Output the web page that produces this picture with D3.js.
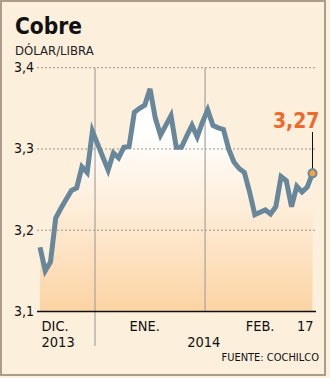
<!DOCTYPE html>
<html>
<head>
<meta charset="utf-8">
<script src="https://cdn.jsdelivr.net/npm/d3@7"></script>
<style>
  html, body { margin: 0; padding: 0; background: #fcf0de; }
  svg { display: block; }
</style>
</head>
<body>
<svg id="chart" width="330" height="378"></svg>
<script>
// Copper price, US dollars per pound, daily closes (Dec 2013 – Feb 17, 2014)
const dates = [
  "2013-12-02","2013-12-03","2013-12-04","2013-12-05","2013-12-06",
  "2013-12-09","2013-12-10","2013-12-11","2013-12-12","2013-12-13",
  "2013-12-16","2013-12-17","2013-12-18","2013-12-19","2013-12-20",
  "2013-12-23","2013-12-24","2013-12-27","2013-12-30","2013-12-31",
  "2014-01-02","2014-01-03","2014-01-06","2014-01-07","2014-01-08",
  "2014-01-09","2014-01-10","2014-01-13","2014-01-14","2014-01-15",
  "2014-01-16","2014-01-17","2014-01-20","2014-01-21","2014-01-22",
  "2014-01-23","2014-01-24","2014-01-27","2014-01-28","2014-01-29",
  "2014-01-30","2014-01-31","2014-02-03","2014-02-04","2014-02-05",
  "2014-02-06","2014-02-07","2014-02-10","2014-02-11","2014-02-12",
  "2014-02-13","2014-02-14","2014-02-17"
];
const prices = [
  3.179, 3.150, 3.161, 3.215, 3.227, 3.238, 3.249, 3.252, 3.278, 3.271,
  3.322, 3.306, 3.290, 3.274, 3.295, 3.289, 3.302, 3.303, 3.345, 3.350,
  3.354, 3.374, 3.338, 3.317, 3.329, 3.341, 3.302, 3.302, 3.316, 3.329,
  3.315, 3.333, 3.348, 3.329, 3.326, 3.324, 3.300, 3.284, 3.276, 3.271,
  3.247, 3.219, 3.222, 3.225, 3.220, 3.229, 3.266, 3.261, 3.229, 3.254,
  3.247, 3.253, 3.270
];
const yTicks = [3.1, 3.2, 3.3, 3.4];
// Month labels placed at the first session of each month
const monthLabels = [
  { date: "2013-12-02", text: "DIC.", anchor: "start" },
  { date: "2014-01-02", text: "ENE.", anchor: "middle" },
  { date: "2014-02-03", text: "FEB.", anchor: "middle" },
  { date: "2014-02-17", text: "17",   anchor: "end" }
];
// Vertical separators, drawn between two consecutive sessions
const dividers = [
  { from: "2013-12-16", to: "2013-12-17", long: true },
  { from: "2014-01-17", to: "2014-01-20", long: false }
];
const lastValue = 3.27;

const svg = d3.select("#chart");
const W = 330, H = 378;
const plotLeft = 40, plotRight = 312.5, plotTop = 67.7, plotBottom = 311.5;

const x = d3.scalePoint().domain(dates).range([plotLeft, plotRight]);
const y = d3.scaleLinear().domain([3.1, 3.4]).range([plotBottom, plotTop]);
const fmt = v => d3.format(".1f")(v).replace(".", ",");

const cond = "'DejaVu Sans Condensed', 'DejaVu Sans', sans-serif";
const narrow = "'Liberation Sans Narrow', 'DejaVu Sans Condensed', sans-serif";

// Panel
svg.append("rect").attr("x", 0).attr("y", 0).attr("width", W).attr("height", H)
  .attr("fill", "#fcf0de");
svg.append("rect").attr("x", 1).attr("y", 1).attr("width", 324).attr("height", 374)
  .attr("fill", "#fcefdc").attr("stroke", "#ad9c8c").attr("stroke-width", 2);

// Title
svg.append("text").attr("x", 15).attr("y", 34)
  .attr("font-family", cond).attr("font-weight", "bold").attr("font-size", 22.5)
  .attr("fill", "#111").text("Cobre");
svg.append("text").attr("x", 15).attr("y", 55)
  .attr("font-family", cond).attr("font-size", 13)
  .attr("fill", "#222").text("DÓLAR/LIBRA");

// Area gradient
const defs = svg.append("defs");
const grad = defs.append("linearGradient").attr("id", "areaFill")
  .attr("gradientUnits", "userSpaceOnUse")
  .attr("x1", 0).attr("x2", 0).attr("y1", y(3.32)).attr("y2", plotBottom);
grad.append("stop").attr("offset", 0).attr("stop-color", "#ffffff");
grad.append("stop").attr("offset", 1).attr("stop-color", "#fcd4a4");

const series = dates.map((d, i) => ({ date: d, value: prices[i] }));

svg.append("path").datum(series)
  .attr("fill", "url(#areaFill)")
  .attr("d", d3.area().x(d => x(d.date)).y0(y(3.1)).y1(d => y(d.value)));

// Dashed gridlines
svg.append("g").selectAll("line").data(yTicks.filter(t => t > 3.1)).join("line")
  .attr("x1", 37).attr("x2", 315)
  .attr("y1", d => y(d)).attr("y2", d => y(d))
  .attr("stroke", "#9c9690").attr("stroke-width", 1)
  .attr("stroke-dasharray", "2,2");

// Vertical separators
svg.append("g").selectAll("line").data(dividers).join("line")
  .attr("x1", d => (x(d.from) + x(d.to)) / 2)
  .attr("x2", d => (x(d.from) + x(d.to)) / 2)
  .attr("y1", plotTop)
  .attr("y2", d => d.long ? 346 : plotBottom)
  .attr("stroke", "#a9a39c").attr("stroke-width", 1.2);

// Baseline
svg.append("line").attr("x1", 37).attr("x2", 316)
  .attr("y1", y(3.1)).attr("y2", y(3.1))
  .attr("stroke", "#111").attr("stroke-width", 1.5);

// Y labels
svg.append("g").selectAll("text").data(yTicks).join("text")
  .attr("x", 34).attr("y", d => y(d) + 4.5)
  .attr("text-anchor", "end")
  .attr("font-family", cond).attr("font-size", 14)
  .attr("fill", "#111").text(d => fmt(d));

// Price line
svg.append("path").datum(series)
  .attr("fill", "none").attr("stroke", "#68879a").attr("stroke-width", 5)
  .attr("stroke-linejoin", "miter").attr("stroke-miterlimit", 4)
  .attr("d", d3.line().x(d => x(d.date)).y(d => y(d.value)));

// X labels
svg.append("g").selectAll("text").data(monthLabels).join("text")
  .attr("x", d => x(d.date) + (d.anchor === "start" ? 1.5 : d.anchor === "end" ? 1 : 0))
  .attr("y", 330.5)
  .attr("text-anchor", d => d.anchor)
  .attr("font-family", narrow).attr("font-size", 14.5)
  .attr("fill", "#111").text(d => d.text);

const div1 = (x(dividers[0].from) + x(dividers[0].to)) / 2;
svg.append("text").attr("x", x(dates[0]) + 1.5).attr("y", 347)
  .attr("font-family", narrow).attr("font-size", 14.5)
  .attr("fill", "#111").text("2013");
svg.append("text").attr("x", (div1 + plotRight) / 2).attr("y", 347)
  .attr("text-anchor", "middle")
  .attr("font-family", narrow).attr("font-size", 14.5)
  .attr("fill", "#111").text("2014");

svg.append("text").attr("x", 319).attr("y", 361)
  .attr("text-anchor", "end")
  .attr("font-family", cond).attr("font-size", 11)
  .attr("fill", "#111").text("FUENTE: COCHILCO");

// Latest value callout
const last = series[series.length - 1];
const lx = x(last.date), ly = y(lastValue);
svg.append("line").attr("x1", lx).attr("x2", lx)
  .attr("y1", 132).attr("y2", ly - 4)
  .attr("stroke", "#111").attr("stroke-width", 1);
svg.append("circle").attr("cx", lx).attr("cy", ly).attr("r", 4)
  .attr("fill", "#f6a443").attr("stroke", "#68879a").attr("stroke-width", 2);
svg.append("text").attr("x", 319.5).attr("y", 127.5)
  .attr("text-anchor", "end")
  .attr("font-family", cond).attr("font-weight", "bold").attr("font-size", 21)
  .attr("fill", "#f0692c").text(d3.format(".2f")(lastValue).replace(".", ","));
</script>
</body>
</html>
